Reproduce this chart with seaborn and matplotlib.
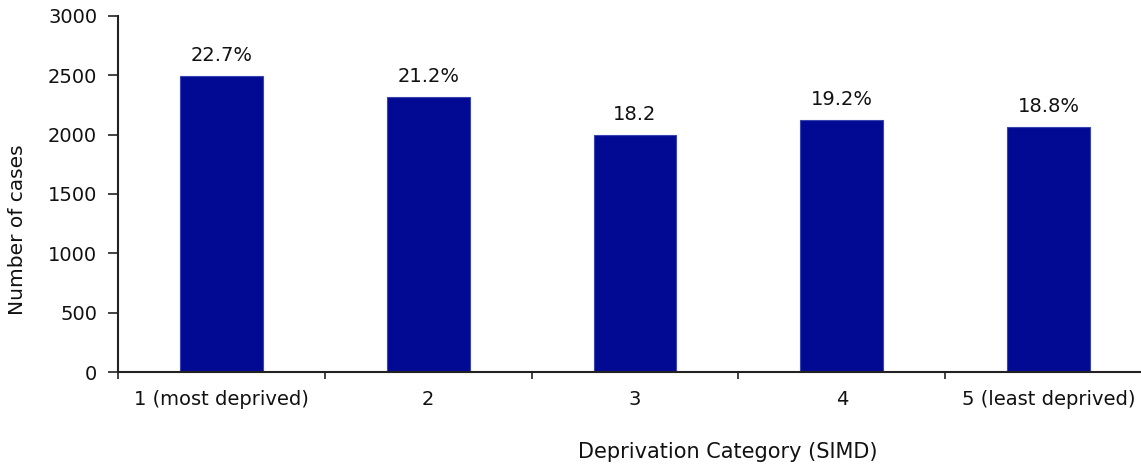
import matplotlib
matplotlib.use("Agg")
import matplotlib.pyplot as plt
import seaborn as sns
import pandas as pd

categories = ["1 (most deprived)", "2", "3", "4", "5 (least deprived)"]
cases = [2497, 2318, 1996, 2122, 2064]
labels = ["22.7%", "21.2%", "18.2", "19.2%", "18.8%"]
y_ticks = [0, 500, 1000, 1500, 2000, 2500, 3000]

sns.set_theme(style="white")
plt.rcParams["font.family"] = ["DejaVu Sans"]

df = pd.DataFrame({"category": categories, "cases": cases})

fig = plt.figure(figsize=(11.41, 4.66), dpi=100)
ax = fig.add_axes([0.1034, 0.2017, 0.9062, 0.764])

sns.barplot(data=df, x="category", y="cases", color="#020a94", width=0.40,
            saturation=1, edgecolor="#3a44b0", linewidth=0.8, ax=ax)

ax.set_ylim(0, 3000)
ax.set_xlim(-0.5, 4.5)
ax.set_yticks(y_ticks)
ax.set_yticklabels([str(v) for v in y_ticks], fontsize=14, color="#111111")

# category boundaries carry the tick marks, the names sit between them
ax.set_xticks([-0.5, 0.5, 1.5, 2.5, 3.5, 4.5])
ax.set_xticklabels([])
ax.set_xticks(range(len(categories)), minor=True)
ax.set_xticklabels(categories, minor=True, fontsize=14, color="#111111")
ax.tick_params(axis="x", which="minor", length=0, pad=13)
ax.tick_params(axis="x", which="major", direction="out", length=5, width=1.2,
               color="#222222", bottom=True)
ax.tick_params(axis="y", direction="out", length=7, width=1.2, color="#222222",
               left=True, pad=8)

for s in ["top", "right"]:
    ax.spines[s].set_visible(False)
for s in ["left", "bottom"]:
    ax.spines[s].set_color("#222222")
    ax.spines[s].set_linewidth(1.5)

for i, (v, t) in enumerate(zip(cases, labels)):
    ax.annotate(t, (i, v), xytext=(0, 8), textcoords="offset points",
                ha="center", va="bottom", fontsize=14, color="#111111")

ax.set_xlabel("Deprivation Category (SIMD)", fontsize=15, color="#111111")
ax.xaxis.set_label_coords(0.59, -0.197)
ax.set_ylabel("Number of cases", fontsize=14.5, color="#111111")
ax.yaxis.set_label_coords(-0.088, 0.40)

fig.savefig("out.png", dpi=100)
